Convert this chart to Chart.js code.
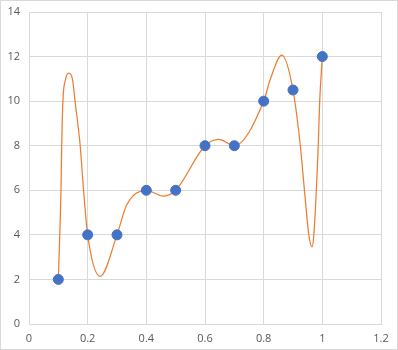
<!DOCTYPE html>
<html>
<head>
<meta charset="utf-8">
<script src="https://cdn.jsdelivr.net/npm/chart.js@4"></script>
<style>
  html, body { margin: 0; padding: 0; background: #fff; }
  #wrap { width: 398px; height: 350px; box-sizing: border-box; border: 1px solid #d9d9d9; }
  canvas { display: block; }
</style>
</head>
<body>
<div id="wrap"><canvas id="grafica" width="396" height="348"></canvas></div>
<script>
// puntos medidos
const puntosX = [0.1, 0.2, 0.3, 0.4, 0.5, 0.6, 0.7, 0.8, 0.9, 1.0];
const puntosY = [2, 4, 4, 6, 6, 8, 8, 10, 10.5, 12];

// curva (pasa por los puntos y oscila entre ellos)
const curvaX = [0.1, 0.109, 0.1115, 0.1156, 0.125, 0.135, 0.148, 0.157, 0.1745, 0.186, 0.2, 0.2425, 0.3, 0.333, 0.4, 0.458, 0.5, 0.6, 0.647, 0.7, 0.8, 0.823, 0.862, 0.9, 0.925, 0.939, 0.954, 0.965, 0.971, 0.986, 0.991, 1.0];
const curvaY = [2, 6, 8, 10, 11, 11.26, 11, 10, 8, 6, 4, 2.14, 4, 5.34, 6, 5.74, 6, 8, 8.29, 8, 10, 11, 12.06, 10.5, 8, 6, 4, 3.46, 4, 8, 10, 12];

const ticksX = [0, 0.2, 0.4, 0.6, 0.8, 1, 1.2];

const puntos = puntosX.map((x, i) => ({ x: x, y: puntosY[i] }));
const curva = curvaX.map((x, i) => ({ x: x, y: curvaY[i] }));

const fuente = { family: "'Open Sans', 'Liberation Sans', sans-serif", size: 11 };
const gris = "#d9d9d9";

new Chart(document.getElementById("grafica"), {
  type: "scatter",
  data: {
    datasets: [
      {
        label: "Puntos",
        data: puntos,
        backgroundColor: "#4472C4",
        borderColor: "#4472C4",
        pointRadius: 5,
        pointHoverRadius: 5,
      },
      {
        label: "Curva",
        data: curva,
        showLine: true,
        borderColor: "#ED7D31",
        borderWidth: 1.25,
        pointRadius: 0,
        cubicInterpolationMode: "monotone",
        fill: false,
      },
    ],
  },
  options: {
    responsive: false,
    animation: false,
    layout: { padding: { left: 0, right: 16, top: 11, bottom: 0 } },
    plugins: { legend: { display: false }, tooltip: { enabled: false } },
    scales: {
      x: {
        type: "linear",
        min: 0,
        max: 1.2,
        afterBuildTicks: (s) => { s.ticks = ticksX.map((v) => ({ value: v })); },
        afterFit: (s) => {
          s.height = 25;
          s.paddingLeft = 0;
          s.paddingRight = 0;
        },
        grid: { color: gris, drawTicks: false },
        border: { color: gris },
        ticks: { color: "#595959", font: fuente, padding: 8, callback: (v) => String(v) },
      },
      y: {
        min: 0,
        max: 14,
        afterFit: (s) => {
          s.width = 28;
          s.paddingTop = 0;
          s.paddingBottom = 0;
        },
        grid: { color: gris, drawTicks: false },
        border: { color: gris },
        ticks: { color: "#595959", font: fuente, stepSize: 2, padding: 9 },
      },
    },
  },
});
</script>
</body>
</html>
